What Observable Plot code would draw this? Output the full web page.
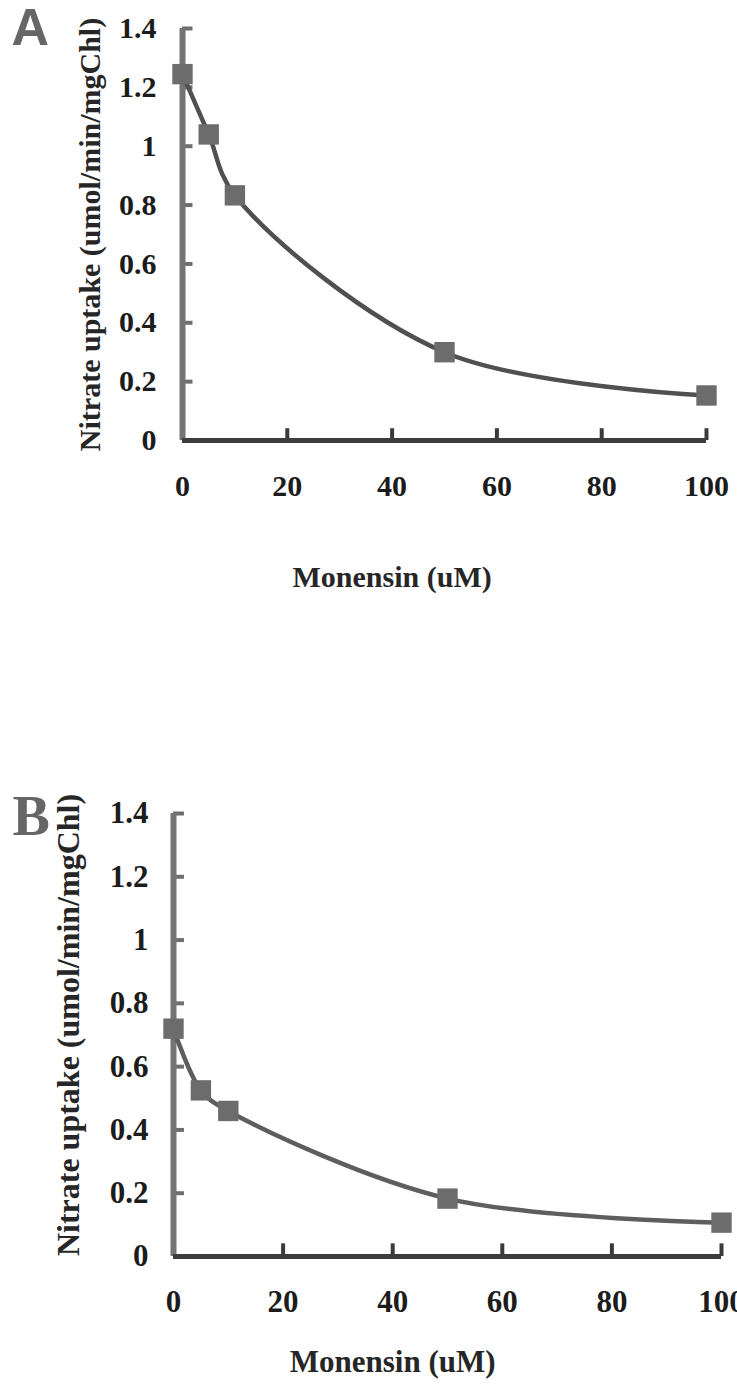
<!DOCTYPE html>
<html><head><meta charset="utf-8">
<script src="https://cdn.jsdelivr.net/npm/d3@7"></script>
<script src="https://cdn.jsdelivr.net/npm/@observablehq/plot@0.6"></script>
<style>
body{margin:0;background:#fff;width:737px;height:1396px;overflow:hidden;position:relative;}
.panel{position:absolute;left:0;}
</style></head><body>
<div id="A" class="panel" style="top:0px"></div>
<div id="B" class="panel" style="top:760px"></div>
<script>
const monensin = [0, 5, 10, 50, 100];
const uptakeA = [1.245, 1.04, 0.833, 0.30, 0.153];
const uptakeB = [0.72, 0.525, 0.46, 0.183, 0.107];
const xTicks = [0, 20, 40, 60, 80, 100];
const yTicks = [0, 0.2, 0.4, 0.6, 0.8, 1, 1.2, 1.4];
const panelLabels = ["A", "B"];
const xLabel = "Monensin (uM)";
const yLabel = "Nitrate uptake (umol/min/mgChl)";

function panel(cfg) {
  const data = monensin.map((m, i) => ({x: m, y: cfg.values[i]}));
  const serif = "'Liberation Serif','Times New Roman',serif";
  return Plot.plot({
    width: 737,
    height: cfg.height,
    marginTop: cfg.mt, marginBottom: cfg.mb, marginLeft: cfg.ml, marginRight: cfg.mr,
    style: {fontFamily: serif, fontWeight: "bold", fontSize: cfg.fs + "px", color: "#1c1c1c", background: "transparent", overflow: "visible"},
    x: {domain: [0, 100]},
    y: {domain: [0, 1.4]},
    marks: [
      Plot.axisX(xTicks, {tickSize: 0, tickPadding: cfg.xpad, tickFormat: d => String(d), fontSize: cfg.fs, label: null}),
      Plot.axisY(yTicks, {tickSize: 0, tickPadding: cfg.ypad, tickFormat: d => String(d), fontSize: cfg.fs, label: null}),
      Plot.ruleY(yTicks, {y: d => d, x1: 0, x2: cfg.ytl, stroke: "#6e6e6e", strokeWidth: 4}),
      Plot.ruleX(xTicks, {x: d => d, y1: 0, y2: 0.04, stroke: "#3a3a3a", strokeWidth: 4}),
      Plot.ruleX([0], {stroke: "#747474", strokeWidth: 6}),
      Plot.ruleY([0], {stroke: "#3c3c3c", strokeWidth: 5, x1: 0, x2: 100}),
      Plot.line(data, {x: "x", y: "y", curve: "catmull-rom", stroke: cfg.lineColor, strokeWidth: 4.5}),
      Plot.dot(data, {x: "x", y: "y", symbol: "square", r: 11.5, fill: "#6c6c6c", stroke: "none"}),
      Plot.text([xLabel], {x: () => 40, frameAnchor: "bottom", dy: cfg.xlabDy, fontSize: cfg.fs, fill: "#262626"}),
      Plot.text([yLabel], {frameAnchor: "left", textAnchor: "middle", lineAnchor: "middle", rotate: -90, dx: cfg.ylabDx, dy: cfg.ylabDy, fontSize: cfg.ylfs, fill: "#262626"}),
      Plot.text([cfg.letter], {frameAnchor: "top-left", textAnchor: "start", lineAnchor: "top", dx: cfg.ldx, dy: cfg.ldy, fontSize: cfg.lfs, fontFamily: cfg.lff, fontWeight: "bold", fill: "#666"})
    ]
  });
}

document.getElementById("A").append(panel({
  values: uptakeA, letter: panelLabels[0], height: 620,
  mt: 28, mb: 180, ml: 182, mr: 31, fs: 30, ylfs: 30,
  xpad: 34, ypad: 26, ytl: 2, xlabDy: 146, ylabDx: -92, ylabDy: 0,
  ldx: -171, ldy: -20, lfs: 52, lff: "'Liberation Sans',Arial,sans-serif",
  lineColor: "#505050"
}));
document.getElementById("B").append(panel({
  values: uptakeB, letter: panelLabels[1], height: 636,
  mt: 53, mb: 140, ml: 173, mr: 16, fs: 31, ylfs: 32,
  xpad: 33, ypad: 25, ytl: 2, xlabDy: 115, ylabDx: -105, ylabDy: -10,
  ldx: -161, ldy: -18, lfs: 56, lff: "'Liberation Serif',serif",
  lineColor: "#5e5e5e"
}));
</script>
</body></html>
